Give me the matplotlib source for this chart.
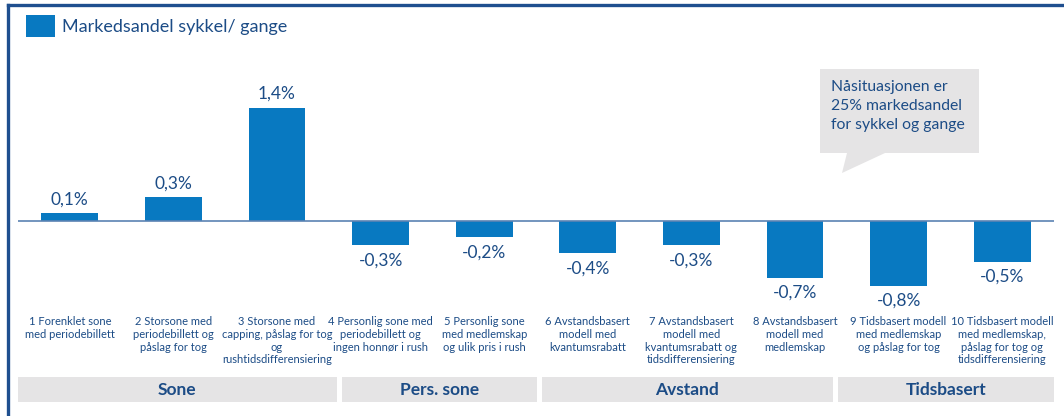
import matplotlib
matplotlib.use("Agg")
import matplotlib.pyplot as plt
from matplotlib.patches import Rectangle, Polygon
from matplotlib.lines import Line2D
import matplotlib.transforms as mtransforms

plt.rcParams["font.family"] = ["Lato", "DejaVu Sans"]

# Scenario data
scenarios = [
    "1 Forenklet sone\nmed periodebillett",
    "2 Storsone med\nperiodebillett og\npåslag for tog",
    "3 Storsone med\ncapping, påslag for tog\nog\nrushtidsdifferensiering",
    "4 Personlig sone med\nperiodebillett og\ningen honnør i rush",
    "5 Personlig sone\nmed medlemskap\nog ulik pris i rush",
    "6 Avstandsbasert\nmodell med\nkvantumsrabatt",
    "7 Avstandsbasert\nmodell med\nkvantumsrabatt og\ntidsdifferensiering",
    "8 Avstandsbasert\nmodell med\nmedlemskap",
    "9 Tidsbasert modell\nmed medlemskap\nog påslag for tog",
    "10 Tidsbasert modell\nmed medlemskap,\npåslag for tog og\ntidsdifferensiering",
]
share_change = [0.1, 0.3, 1.4, -0.3, -0.2, -0.4, -0.3, -0.7, -0.8, -0.5]
group_names = ["Sone", "Pers. sone", "Avstand", "Tidsbasert"]
legend_label = "Markedsandel sykkel/ gange"
callout_text = "Nåsituasjonen er\n25% markedsandel\nfor sykkel og gange"

# Styling / layout
BAR = "#0879c1"
NAVY = "#1c4c86"
GREY = "#e5e4e5"
FRAME = "#1f4f8f"
group_edges = [-0.5, 2.6, 4.53, 7.39, 9.5]

W, H = 1064, 416
fig = plt.figure(figsize=(W / 100, H / 100), dpi=100)
fig.patch.set_facecolor("white")


def fx(px):
    return px / W


def fy(py):
    return 1 - py / H


# frame lines (top and left)
fig.add_artist(Line2D([fx(8), 1], [fy(5), fy(5)], color=FRAME, lw=2.4,
                      transform=fig.transFigure))
fig.add_artist(Line2D([fx(8), fx(8)], [fy(5), 0], color=FRAME, lw=2.4,
                      transform=fig.transFigure))

# main axes
ax = fig.add_axes([fx(18), fy(300), fx(1054) - fx(18), fy(60) - fy(300)])
ax.set_xlim(-0.5, 9.5)
ax.set_ylim(-0.975, 1.988)
ax.axis("off")

x = list(range(len(share_change)))
ax.bar(x, share_change, width=0.55, color=BAR, zorder=2)
ax.axhline(0, color="#5b83b3", lw=1.2, zorder=3)

for xi, v in zip(x, share_change):
    txt = f"{v:.1f}%".replace(".", ",")
    if v >= 0:
        ax.annotate(txt, (xi, v), xytext=(0, 4), textcoords="offset points",
                    ha="center", va="bottom", fontsize=12.5, color=NAVY)
    else:
        ax.annotate(txt, (xi, v), xytext=(0, -5), textcoords="offset points",
                    ha="center", va="top", fontsize=12.5, color=NAVY)

# category labels under the chart
blend = mtransforms.blended_transform_factory(ax.transData, fig.transFigure)
for xi, lab in zip(x, scenarios):
    ax.text(xi, fy(316), lab, transform=blend, ha="center", va="top",
            fontsize=8, color=NAVY, linespacing=1.2, multialignment="center",
            clip_on=False)

# group boxes
gap = 0.025
for i, name in enumerate(group_names):
    left = group_edges[i] + (gap if i > 0 else 0)
    right = group_edges[i + 1] - (gap if i < len(group_names) - 1 else 0)
    ax.add_patch(Rectangle((left, fy(402)), right - left, fy(377) - fy(402),
                           transform=blend, facecolor=GREY, edgecolor="none",
                           clip_on=False))
    ax.text((left + right) / 2, fy(390), name, transform=blend, ha="center",
            va="center", fontsize=12.5, fontweight="bold", color=NAVY,
            clip_on=False)

# legend
fig.add_artist(Rectangle((fx(26), fy(37)), fx(55) - fx(26), fy(15) - fy(37),
                         transform=fig.transFigure, facecolor=BAR,
                         edgecolor="none"))
fig.text(fx(62), fy(27), legend_label, ha="left", va="center", fontsize=13,
         color=NAVY)

# callout bubble
bubble = [(820, 69), (979, 69), (979, 153), (885, 153), (842, 173),
          (847, 153), (820, 153)]
fig.add_artist(Polygon([(fx(a), fy(b)) for a, b in bubble], closed=True,
                       transform=fig.transFigure, facecolor=GREY,
                       edgecolor="none"))
fig.text(fx(831), fy(80), callout_text, ha="left", va="top", fontsize=11.3,
         color=NAVY, linespacing=1.45)

fig.savefig("out.png", dpi=100, facecolor="white")
